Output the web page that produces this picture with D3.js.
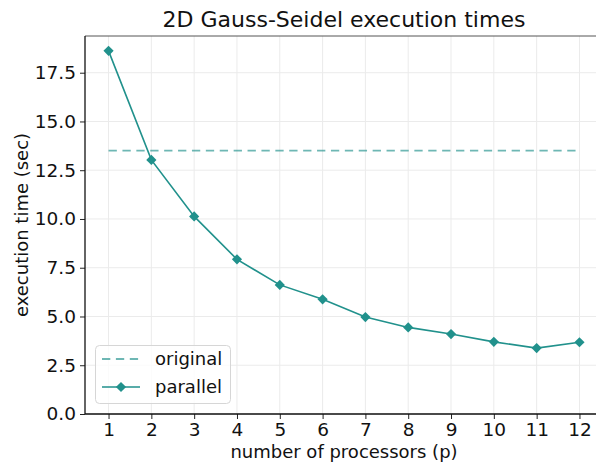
<!DOCTYPE html>
<html>
<head>
<meta charset="utf-8">
<script src="https://cdn.jsdelivr.net/npm/d3@7"></script>
<style>
  body { margin: 0; background: #fff; }
  svg { display: block; font-family: "DejaVu Sans", sans-serif; }
</style>
</head>
<body>
<svg id="canvas" width="596" height="468"></svg>
<script>
// data
let processors = [1, 2, 3, 4, 5, 6, 7, 8, 9, 10, 11, 12]
let parallelTimes = [18.62, 13.03, 10.13, 7.93, 6.62, 5.88, 4.97, 4.44, 4.1, 3.7, 3.38, 3.68]
let originalTime = 13.5
let yTicks = [0, 2.5, 5, 7.5, 10, 12.5, 15, 17.5]

let teal = "#21918c"

let svg = d3.select('#canvas')
let W = 596, H = 468
let plotLeft = 85, plotTop = 36, plotBottom = 414, plotRight = 603

// matplotlib-ish margins: 5% on x, y from 0
let xScale = d3.scaleLinear()
               .domain([0.45, 12.55])
               .range([plotLeft, plotRight])
let yMax = d3.max(parallelTimes) + 0.05 * (d3.max(parallelTimes) - d3.min(parallelTimes))
let yScale = d3.scaleLinear()
               .domain([0, yMax])
               .range([plotBottom, plotTop])

// grid
let grid = svg.append('g')
grid.selectAll('.vg')
    .data(processors)
    .enter()
    .append('line')
    .attr('x1', (d) => xScale(d))
    .attr('x2', (d) => xScale(d))
    .attr('y1', plotTop)
    .attr('y2', plotBottom)
    .attr('stroke', '#ebebeb')
    .attr('stroke-width', 1)
grid.selectAll('.hg')
    .data(yTicks)
    .enter()
    .append('line')
    .attr('x1', plotLeft)
    .attr('x2', W)
    .attr('y1', (d) => yScale(d))
    .attr('y2', (d) => yScale(d))
    .attr('stroke', '#ebebeb')
    .attr('stroke-width', 1)

// axes
let xAxis = d3.axisBottom(xScale)
              .tickValues(processors)
              .tickFormat(d3.format('d'))
              .tickSize(5)
              .tickPadding(4)
let yAxis = d3.axisLeft(yScale)
              .tickValues(yTicks)
              .tickFormat(d3.format('.1f'))
              .tickSize(5)
              .tickPadding(4)

let gx = svg.append('g')
            .attr('transform', 'translate(0,' + plotBottom + ')')
            .call(xAxis)
let gy = svg.append('g')
            .attr('transform', 'translate(' + plotLeft + ',0)')
            .call(yAxis)

for (let g of [gx, gy]) {
    g.select('.domain').remove()
    g.selectAll('line').attr('stroke', '#222').attr('stroke-width', 1)
    g.selectAll('text')
     .attr('fill', '#111')
     .style('font-size', '18.5px')
     .style('font-family', '"DejaVu Sans", sans-serif')
}

// spines
svg.append('line').attr('x1', plotLeft).attr('x2', W).attr('y1', plotTop).attr('y2', plotTop)
   .attr('stroke', '#555').attr('stroke-width', 1)
svg.append('line').attr('x1', plotLeft).attr('x2', W).attr('y1', plotBottom).attr('y2', plotBottom)
   .attr('stroke', '#111').attr('stroke-width', 1.3)
svg.append('line').attr('x1', plotLeft).attr('x2', plotLeft).attr('y1', plotTop).attr('y2', plotBottom)
   .attr('stroke', '#111').attr('stroke-width', 1.3)

// original (dashed)
svg.append('line')
   .attr('x1', xScale(processors[0]))
   .attr('x2', xScale(processors[processors.length - 1]))
   .attr('y1', yScale(originalTime))
   .attr('y2', yScale(originalTime))
   .attr('stroke', teal)
   .attr('stroke-opacity', 0.65)
   .attr('stroke-width', 1.8)
   .attr('stroke-dasharray', '8.3,5.6')

// parallel line
let line = d3.line()
             .x((d, i) => xScale(processors[i]))
             .y((d) => yScale(d))
svg.append('path')
   .datum(parallelTimes)
   .attr('d', line)
   .attr('fill', 'none')
   .attr('stroke', teal)
   .attr('stroke-width', 1.6)

let diamond = d3.symbol().type(d3.symbolSquare).size(52)
svg.selectAll('.marker')
   .data(parallelTimes)
   .enter()
   .append('path')
   .attr('d', diamond)
   .attr('transform', (d, i) => 'translate(' + xScale(processors[i]) + ',' + yScale(d) + ') rotate(45)')
   .attr('fill', teal)

// title and labels
svg.append('text')
   .attr('x', (plotLeft + plotRight) / 2)
   .attr('y', 27)
   .attr('text-anchor', 'middle')
   .style('font-size', '22px')
   .attr('fill', '#111')
   .text('2D Gauss-Seidel execution times')

svg.append('text')
   .attr('x', (plotLeft + plotRight) / 2)
   .attr('y', 458)
   .attr('text-anchor', 'middle')
   .style('font-size', '18px')
   .attr('fill', '#111')
   .text('number of processors (p)')

svg.append('text')
   .attr('transform', 'translate(28,' + (plotTop + plotBottom) / 2 + ') rotate(-90)')
   .attr('text-anchor', 'middle')
   .style('font-size', '18px')
   .attr('fill', '#111')
   .text('execution time (sec)')

// legend
let legend = svg.append('g')
legend.append('rect')
      .attr('x', 95.5).attr('y', 345.5)
      .attr('width', 135).attr('height', 58)
      .attr('rx', 4)
      .attr('fill', '#fff').attr('fill-opacity', 0.8)
      .attr('stroke', '#d6d6d6')
legend.append('line')
      .attr('x1', 102).attr('x2', 140).attr('y1', 359).attr('y2', 359)
      .attr('stroke', teal).attr('stroke-opacity', 0.65)
      .attr('stroke-width', 1.8).attr('stroke-dasharray', '8.3,5.6')
legend.append('text')
      .attr('x', 155).attr('y', 365)
      .style('font-size', '18px').attr('fill', '#111')
      .text('original')
legend.append('line')
      .attr('x1', 102).attr('x2', 140).attr('y1', 387).attr('y2', 387)
      .attr('stroke', teal).attr('stroke-width', 1.6)
legend.append('path')
      .attr('d', diamond)
      .attr('transform', 'translate(121,387) rotate(45)')
      .attr('fill', teal)
legend.append('text')
      .attr('x', 155).attr('y', 393)
      .style('font-size', '18px').attr('fill', '#111')
      .text('parallel')
</script>
</body>
</html>
